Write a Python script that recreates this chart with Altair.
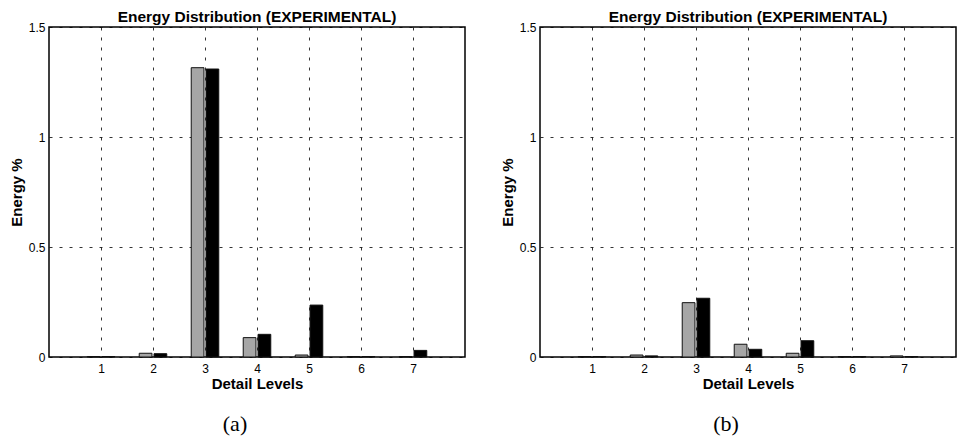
import altair as alt
import pandas as pd

levels = [1, 2, 3, 4, 5, 6, 7]
left_gray = [0.002, 0.017, 1.315, 0.088, 0.009, 0.002, 0.002]
left_black = [0.002, 0.015, 1.309, 0.103, 0.236, 0.002, 0.030]
right_gray = [0.002, 0.009, 0.247, 0.058, 0.017, 0.002, 0.005]
right_black = [0.002, 0.005, 0.267, 0.035, 0.074, 0.002, 0.002]
series_names = ["gray", "black"]
series_colors = ["#a6a6a6", "#000000"]
x_ticks = [1, 2, 3, 4, 5, 6, 7]
y_ticks = [0, 0.5, 1, 1.5]
title_text = "Energy Distribution (EXPERIMENTAL)"
x_title = "Detail Levels"
y_title = "Energy %"
captions = ["(a)", "(b)"]

PW, PH = 416, 330


def make_df(gray, black):
    rows = []
    for lv, g, b in zip(levels, gray, black):
        rows.append({"level": lv, "series": "gray", "value": g})
        rows.append({"level": lv, "series": "black", "value": b})
    return pd.DataFrame(rows)


def panel(gray, black, caption):
    df = make_df(gray, black)
    base = alt.Chart(df).transform_calculate(
        x_lo="datum.level + (datum.series == 'gray' ? -0.265 : 0.02)",
        x_hi="datum.level + (datum.series == 'gray' ? -0.02 : 0.265)",
    )
    bars = base.mark_rect(stroke="#111111", strokeWidth=1).encode(
        x=alt.X("x_lo:Q",
                scale=alt.Scale(domain=[0, 8], nice=False, zero=False),
                axis=alt.Axis(values=x_ticks, title=x_title, grid=True,
                              ticks=False, domain=False, labelPadding=6,
                              titlePadding=2)),
        x2="x_hi:Q",
        y=alt.Y("value:Q",
                scale=alt.Scale(domain=[0, 1.5], nice=False),
                axis=alt.Axis(values=y_ticks, title=y_title, grid=True,
                              ticks=False, domain=False, format="~g",
                              labelPadding=4, titlePadding=4)),
        y2=alt.datum(0),
        color=alt.Color("series:N",
                        scale=alt.Scale(domain=series_names, range=series_colors),
                        legend=None),
    )
    cap = alt.Chart(pd.DataFrame({"t": [caption]})).mark_text(
        font="Liberation Serif", fontSize=22, baseline="middle", align="center",
        color="black"
    ).encode(text="t:N", x=alt.value(186), y=alt.value(397))
    return alt.layer(bars, cap).properties(
        width=PW, height=PH,
        title=alt.TitleParams(title_text, fontSize=15.5, font="Liberation Sans",
                              fontWeight="bold", anchor="middle", offset=-4,
                              frame="group", color="black"),
    )


chart = alt.hconcat(
    panel(left_gray, left_black, captions[0]),
    panel(right_gray, right_black, captions[1]),
    spacing=33,
).properties(
    padding={"left": 0, "top": 0, "right": 0, "bottom": 0}
).configure_view(
    stroke="black", strokeWidth=1.5
).configure_axis(
    gridColor="black", gridDash=[3, 7], gridWidth=0.8, gridOpacity=1,
    labelFont="Liberation Sans", labelFontSize=12, labelColor="black",
    titleFont="Liberation Sans", titleFontSize=15, titleFontWeight="bold",
    titleColor="black",
)

chart.save("out.html", embed_options={"renderer": "svg", "actions": False})
